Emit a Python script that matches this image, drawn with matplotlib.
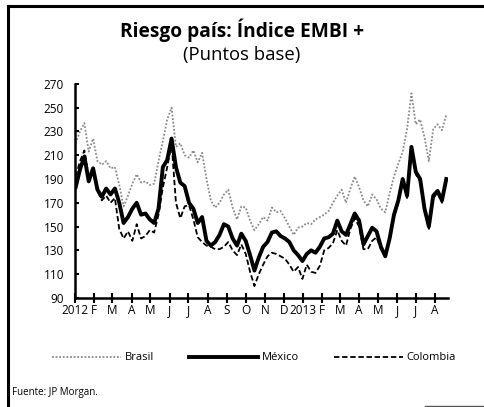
import pandas as pd
import matplotlib
matplotlib.use("Agg")
import matplotlib.pyplot as plt
from matplotlib.lines import Line2D

plt.rcParams['font.family'] = ['Open Sans', 'DejaVu Sans']

# weekly readings, Jan 2012 - Aug 2013 (puntos base)
semanas = pd.date_range('2012-01-02', periods=86, freq='7D')

brasil = [220, 230, 237, 213, 224, 205, 202, 205, 199, 200,
          185, 167, 176, 186, 194, 187, 188, 185, 186, 205,
          222, 240, 250, 217, 220, 210, 208, 214, 204, 212,
          190, 172, 166, 170, 177, 181, 166, 156, 167, 166,
          155, 147, 152, 158, 155, 166, 162, 163, 157, 150,
          143, 149, 150, 153, 152, 156, 158, 160, 163, 170,
          176, 181, 170, 182, 192, 183, 172, 167, 177, 173,
          165, 162, 178, 192, 203, 213, 232, 262, 236, 240,
          225, 205, 232, 236, 231, 244]

mexico = [183, 198, 209, 188, 199, 181, 175, 182, 177, 182,
          170, 153, 158, 165, 170, 160, 161, 156, 153, 165,
          200, 206, 224, 200, 187, 184, 170, 165, 153, 158,
          138, 134, 137, 143, 152, 150, 140, 134, 144, 138,
          126, 113, 124, 133, 137, 145, 146, 142, 140, 137,
          130, 126, 121, 127, 130, 128, 133, 140, 141, 144,
          155, 146, 143, 152, 161, 155, 135, 142, 149, 146,
          133, 125, 140, 160, 172, 190, 176, 217, 196, 190,
          165, 150, 176, 180, 172, 190]

colombia = [192, 205, 214, 192, 196, 180, 172, 176, 170, 174,
            148, 140, 146, 138, 152, 140, 142, 147, 145, 160,
            183, 200, 220, 170, 157, 167, 168, 156, 141, 137,
            134, 133, 131, 131, 133, 137, 130, 126, 135, 127,
            112, 100, 110, 118, 125, 128, 127, 125, 123, 118,
            112, 116, 106, 118, 112, 111, 117, 130, 132, 136,
            147, 138, 134, 148, 157, 150, 131, 131, 138, 141,
            131, 127, 140, 158, 170, 188, 174, 214, 194, 188,
            163, 148, 174, 178, 170, 188]

meses = pd.date_range('2012-01-01', '2013-08-01', freq='MS')
etiquetas = ['2012', 'F', 'M', 'A', 'M', 'J', 'J', 'A', 'S', 'O', 'N', 'D',
             '2013', 'F', 'M', 'A', 'M', 'J', 'J', 'A']

fig = plt.figure(figsize=(4.84, 4.07), dpi=100)
ax = fig.add_axes([0.155, 0.268, 0.771, 0.526])

ax.plot(semanas, brasil, color='#8a8a8a', lw=1.3, ls=(0, (1, 1)), label='Brasil')
ax.plot(semanas, colombia, color='black', lw=1.3, ls=(0, (3, 1.5)), label='Colombia')
ax.plot(semanas, mexico, color='black', lw=2.8, label='México')

ax.set_xlim(pd.Timestamp('2012-01-01'), pd.Timestamp('2013-08-22'))
ax.set_ylim(90, 270)
ax.set_yticks(range(90, 271, 20))
ax.set_xticks(meses)
ax.set_xticklabels(etiquetas)

for s in ['top', 'right']:
    ax.spines[s].set_visible(False)
ax.spines['left'].set_linewidth(1.8)
ax.spines['bottom'].set_linewidth(1.8)
ax.tick_params(axis='x', direction='inout', length=7, width=1.5, labelsize=8.5, pad=1)
ax.tick_params(axis='y', direction='in', length=3, width=1.5, labelsize=8.5, pad=8)

fig.text(0.5, 1 - 30/407, 'Riesgo país: Índice EMBI +', ha='center', va='center',
         fontsize=13.8, fontweight='bold')
fig.text(0.5, 1 - 55/407, '(Puntos base)', ha='center', va='center', fontsize=13.3)
fig.text(12/484, 1 - 393/407, 'Fuente: JP Morgan.', ha='left', va='center', fontsize=7)

h = {l.get_label(): l for l in ax.get_lines()}
fig.legend([h['Brasil'], h['México'], h['Colombia']], ['Brasil', 'México', 'Colombia'],
           loc='center', bbox_to_anchor=(0.525, 1 - 358/407), ncol=3, frameon=False,
           fontsize=8, handlelength=6.2, handletextpad=0.3, columnspacing=3.2)

# marco del recuadro
fig.add_artist(Line2D([8/484, 8/484], [0, 1 - 6/407], color='black', lw=2.2,
                      transform=fig.transFigure))
fig.add_artist(Line2D([8/484, 1], [1 - 6/407, 1 - 6/407], color='black', lw=2.2,
                      transform=fig.transFigure))
fig.add_artist(Line2D([425/484, 1], [1/407, 1/407], color='#555555', lw=1.0,
                      transform=fig.transFigure))

fig.savefig('out.png', dpi=100)
